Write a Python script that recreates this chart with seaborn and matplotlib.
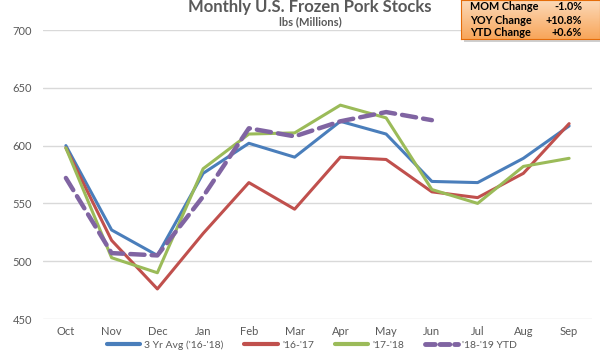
import numpy as np
import pandas as pd
import matplotlib
matplotlib.use("Agg")
import matplotlib.pyplot as plt
import seaborn as sns
from matplotlib.lines import Line2D

months = ["Oct", "Nov", "Dec", "Jan", "Feb", "Mar", "Apr", "May", "Jun", "Jul", "Aug", "Sep"]
avg_3yr = [600, 527, 505, 576, 602, 590, 621, 610, 569, 568, 589, 617]
y16_17 = [598, 518, 476, 524, 568, 545, 590, 588, 560, 555, 576, 619]
y17_18 = [598, 503, 490, 580, 610, 611, 635, 624, 562, 550, 582, 589]
y18_19 = [572, 507, 505, 556, 615, 608, 621, 629, 622]

series_names = ["3 Yr Avg ('16-'18)", "'16-'17", "'17-'18", "'18-'19 YTD"]
colors = ["#4A7EBB", "#C0504D", "#9BBB59", "#8064A2"]

box_labels = ["MOM Change", "YOY Change", "YTD Change"]
box_values = ["-1.0%", "+10.8%", "+0.6%"]

sns.set_style("white")
plt.rcParams["font.family"] = ["Lato", "DejaVu Sans"]

fig = plt.figure(figsize=(6, 3.5), dpi=100)
ax = fig.add_axes([43 / 600, 1 - 319 / 350, (592 - 43) / 600, (319 - 30) / 350])

rows = []
for name, vals in zip(series_names, [avg_3yr, y16_17, y17_18, y18_19]):
    for m, v in zip(months, vals):
        rows.append({"month": m, "value": v, "series": name})
df = pd.DataFrame(rows)
df["x"] = df["month"].map({m: i for i, m in enumerate(months)})

for name, col in zip(series_names[:3], colors[:3]):
    sns.lineplot(data=df[df.series == name], x="x", y="value", color=col,
                 linewidth=2.2, ax=ax, legend=False, estimator=None)
sub = df[df.series == series_names[3]]
sns.lineplot(data=sub, x="x", y="value", color=colors[3], linewidth=3.2,
             ax=ax, legend=False, estimator=None, dashes=False)
ax.lines[-1].set_dashes([3.2, 1.6])
ax.lines[-1].set_dash_capstyle("round")

ax.set_xlim(-0.5, 11.5)
ax.set_ylim(450, 700)
ax.set_yticks([450, 500, 550, 600, 650, 700])
ax.set_xticks(range(len(months)))
ax.set_xticklabels(months)
ax.set_xlabel("")
ax.set_ylabel("")
ax.grid(axis="y", color="#D9D9D9", linewidth=1)
ax.set_axisbelow(True)
for s in ax.spines.values():
    s.set_visible(False)
ax.tick_params(axis="both", length=0, labelsize=8, colors="#595959", pad=8)
ax.tick_params(axis="x", pad=5)

fig.text(310 / 600, 1 - 7 / 350, "Monthly U.S. Frozen Pork Stocks", ha="center", va="center",
         fontsize=12, fontweight="bold", color="#595959")
fig.text(310 / 600, 1 - 22 / 350, "lbs (Millions)", ha="center", va="center",
         fontsize=8, fontweight="bold", color="#595959")

# orange info box with gradient and a soft shadow
sax = fig.add_axes([464 / 600, 1 - 42 / 350, 136 / 600, 39 / 350])
sax.set_facecolor("#CFCFCF")
sax.set_xticks([])
sax.set_yticks([])
for s in sax.spines.values():
    s.set_visible(False)
bax = fig.add_axes([461 / 600, 1 - 39 / 350, 139 / 600, 39 / 350])
grad = np.linspace(0, 1, 50).reshape(-1, 1)
cmap = matplotlib.colors.LinearSegmentedColormap.from_list("o", ["#FCD9B8", "#F8A65A"])
bax.imshow(grad, aspect="auto", cmap=cmap, extent=[0, 1, 0, 1], origin="upper")
bax.set_xlim(0, 1)
bax.set_ylim(0, 1)
bax.set_xticks([])
bax.set_yticks([])
for s in bax.spines.values():
    s.set_color("#E46C0A")
    s.set_linewidth(0.8)
for i, (lab, val) in enumerate(zip(box_labels, box_values)):
    yy = 1 - (7 + 13 * i) / 350
    fig.text(470 / 600, yy, lab, ha="left", va="center", fontsize=7.8, fontweight="bold", color="#000000")
    fig.text(582 / 600, yy, val, ha="right", va="center", fontsize=7.8, fontweight="bold", color="#000000")

handles = [Line2D([0], [0], color=c, lw=3) for c in colors[:3]]
handles.append(Line2D([0], [0], color=colors[3], lw=3.5, dashes=[2, 1], dash_capstyle="round"))
fig.legend(handles, series_names, loc="center", bbox_to_anchor=(312 / 600, 5 / 350), ncol=4,
           frameon=False, fontsize=7.5, labelcolor="#595959", handlelength=3.2, columnspacing=2,
           handletextpad=0.4, borderpad=0.0)

fig.savefig("out.png", dpi=100)
